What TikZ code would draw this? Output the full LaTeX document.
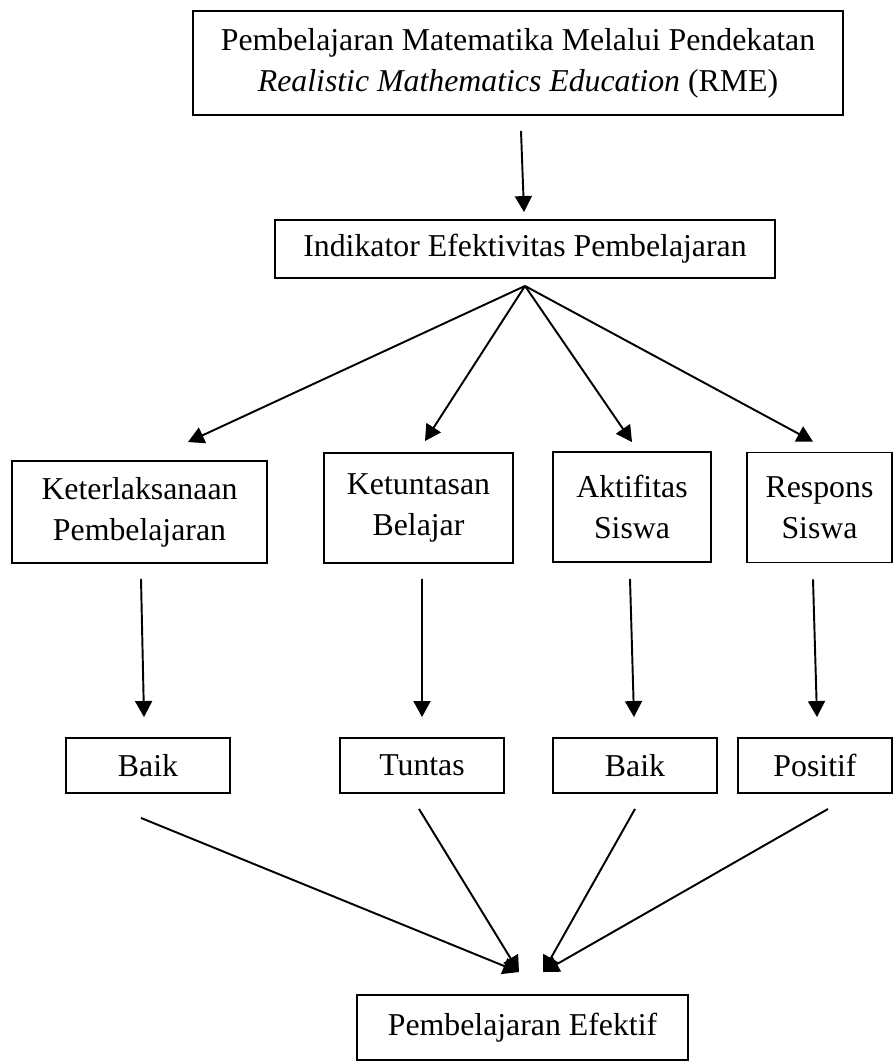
\documentclass[tikz,border=0pt]{standalone}
\usepackage{fontspec}
\setmainfont{Liberation Serif}
\usetikzlibrary{arrows.meta, positioning}
\tikzset{
  box/.style  = {rectangle, draw=black, line width=1.1pt, inner sep=0pt,
                 align=center, font=\fontsize{18.1}{23.3}\selectfont},
  lvl/.style  = {box, minimum height=2.2cm},
  hasil/.style= {box, minimum height=1.1cm},
  arr/.style  = {-{Triangle[length=0.32cm, width=0.34cm]}, line width=1.1pt},
}
\begin{document}
\begin{tikzpicture}[x=0.02cm, y=-0.02cm]
  \useasboundingbox (0,0) rectangle (894,1062);

  \node[box, minimum width=13cm, minimum height=2.08cm] (rme) at (518,63)
    {Pembelajaran Matematika Melalui Pendekatan\\
     \textit{Realistic Mathematics Education} (RME)};
  \node[box, minimum width=10cm, minimum height=1.16cm] (ind) at (525,249)
    {Indikator Efektivitas Pembelajaran};

  \node[lvl, minimum width=5.1cm, minimum height=2.04cm] (ket) at (139.5,512)
    {Keterlaksanaan\\ Pembelajaran};
  \node[lvl, minimum width=3.78cm] (tun) at (418.5,508) {Ketuntasan\\ Belajar};
  \node[lvl, minimum width=3.16cm] (akt) at (632,507)   {Aktifitas\\ Siswa};
  \node[lvl, minimum width=2.9cm]  (res) at (819.5,507.5) {Respons\\ Siswa};

  \node[hasil, minimum width=3.28cm] (baik1) at (148,765.5) {Baik};
  \node[hasil, minimum width=3.28cm] (tuntas) at (422,765.5) {Tuntas};
  \node[hasil, minimum width=3.28cm] (baik2) at (635,765.5) {Baik};
  \node[hasil, minimum width=3.08cm] (pos) at (815,765.5) {Positif};

  \node[box, minimum width=6.62cm, minimum height=1.3cm] (ef) at (522.5,1027.5)
    {Pembelajaran Efektif};

  \draw[arr] ([xshift=0.06cm,yshift=-0.3cm]rme.south)
          -- ([xshift=-0.02cm,yshift=0.14cm]ind.north);

  % indikator ke empat aspek
  \draw[arr] ([yshift=-0.14cm]ind.south) -- ([xshift=0.97cm,yshift=0.36cm]ket.north);
  \draw[arr] ([yshift=-0.14cm]ind.south) -- ([xshift=0.13cm,yshift=0.22cm]tun.north);
  \draw[arr] ([yshift=-0.14cm]ind.south) -- ([yshift=0.18cm]akt.north);
  \draw[arr] ([yshift=-0.14cm]ind.south) -- ([xshift=-0.13cm,yshift=0.2cm]res.north);

  \draw[arr] ([xshift=0.03cm,yshift=-0.3cm]ket.south)
          -- ([xshift=-0.08cm,yshift=0.4cm]baik1.north);
  \draw[arr] ([xshift=0.07cm,yshift=-0.3cm]tun.south)
          -- ([yshift=0.4cm]tuntas.north);
  \draw[arr] ([xshift=-0.04cm,yshift=-0.32cm]akt.south)
          -- ([xshift=-0.02cm,yshift=0.4cm]baik2.north);
  \draw[arr] ([xshift=-0.13cm,yshift=-0.32cm]res.south)
          -- ([xshift=0.04cm,yshift=0.4cm]pos.north);

  % semua hasil ke pembelajaran efektif
  \draw[arr] ([xshift=-0.14cm,yshift=-0.48cm]baik1.south)
          -- ([xshift=-0.07cm,yshift=0.44cm]ef.north);
  \draw[arr] ([xshift=-0.06cm,yshift=-0.3cm]tuntas.south)
          -- ([xshift=-0.07cm,yshift=0.44cm]ef.north);
  \draw[arr] ([yshift=-0.3cm]baik2.south)
          -- ([xshift=0.41cm,yshift=0.44cm]ef.north);
  \draw[arr] ([xshift=0.26cm,yshift=-0.3cm]pos.south)
          -- ([xshift=0.41cm,yshift=0.44cm]ef.north);

\end{tikzpicture}
\end{document}
